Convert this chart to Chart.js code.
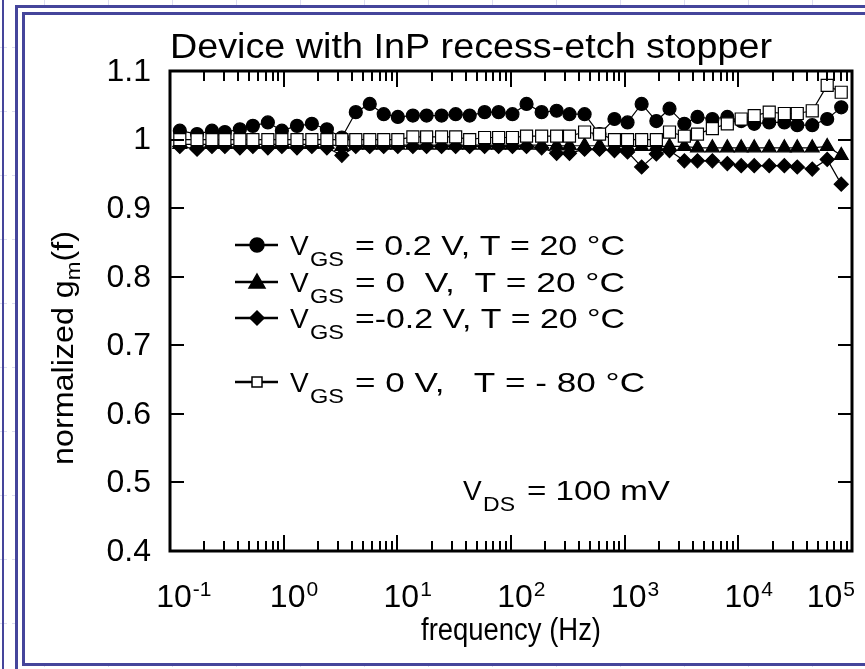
<!DOCTYPE html>
<html>
<head>
<meta charset="utf-8">
<script src="https://cdn.jsdelivr.net/npm/chart.js@4.4.0/dist/chart.umd.min.js"></script>
<style>
  html, body { margin: 0; padding: 0; background: #fff; }
  #wrap { position: relative; width: 865px; height: 669px; }
</style>
</head>
<body>
<div id="wrap"><canvas id="chart" width="865" height="669"></canvas></div>
<script>
// ── data ──
const freqHz = [0.122, 0.173, 0.234, 0.304, 0.412, 0.536, 0.726, 0.964, 1.31, 1.77, 2.40, 3.25,
  4.31, 5.72, 7.59, 10.1, 13.7, 18.1, 24.5, 32.6, 43.3, 58.6, 77.8, 103,
  137, 186, 252, 327, 444, 601, 813, 1060, 1410, 1900, 2480, 3350,
  4370, 5910, 8000, 10600, 13800, 18700, 25400, 33000, 44700, 60500, 80400];

const gmPos02 = [1.013, 1.008, 1.013, 1.011, 1.015, 1.020, 1.025, 1.013, 1.020, 1.023, 1.015, 1.003,
  1.040, 1.052, 1.037, 1.033, 1.035, 1.035, 1.035, 1.037, 1.035, 1.040, 1.040, 1.037,
  1.052, 1.040, 1.042, 1.037, 1.037, 1.008, 1.030, 1.025, 1.052, 1.027, 1.045, 1.023,
  1.033, 1.030, 1.033, 1.027, 1.023, 1.025, 1.025, 1.021, 1.021, 1.030, 1.047];

const gmZero = [0.993, 0.993, 0.993, 0.993, 0.993, 0.993, 0.993, 0.993, 0.993, 0.993, 0.993, 0.990,
  0.992, 0.992, 0.992, 0.992, 0.992, 0.992, 0.992, 0.992, 0.992, 0.992, 0.992, 0.992,
  0.992, 0.992, 0.991, 0.991, 0.991, 0.991, 0.990, 0.990, 0.990, 0.990, 0.990, 0.990,
  0.988, 0.988, 0.988, 0.988, 0.988, 0.988, 0.988, 0.988, 0.988, 0.990, 0.977];

const gmNeg02 = [0.990, 0.986, 0.990, 0.990, 0.988, 0.990, 0.988, 0.990, 0.988, 0.990, 0.988, 0.977,
  0.990, 0.990, 0.990, 0.990, 0.990, 0.990, 0.990, 0.990, 0.990, 0.990, 0.990, 0.990,
  0.990, 0.988, 0.980, 0.980, 0.986, 0.986, 0.984, 0.982, 0.960, 0.979, 0.984, 0.969,
  0.969, 0.969, 0.965, 0.962, 0.962, 0.962, 0.962, 0.960, 0.957, 0.971, 0.935];

const gmCold = [1.000, 1.000, 1.000, 1.000, 1.000, 1.000, 1.000, 1.000, 1.000, 1.000, 1.000, 1.000,
  1.000, 1.000, 1.000, 1.000, 1.004, 1.004, 1.004, 1.004, 1.000, 1.003, 1.003, 1.003,
  1.005, 1.005, 1.005, 1.005, 1.011, 1.008, 1.000, 1.000, 1.000, 1.000, 1.011, 1.005,
  1.008, 1.016, 1.023, 1.030, 1.035, 1.040, 1.038, 1.038, 1.042, 1.079, 1.069];

const yTicks = [1.1, 1.0, 0.9, 0.8, 0.7, 0.6, 0.5, 0.4];
const yTickLabels = ['1.1', '1', '0.9', '0.8', '0.7', '0.6', '0.5', '0.4'];
const xDecades = [-1, 0, 1, 2, 3, 4, 5];
const xTickExp = ['-1', '0', '1', '2', '3', '4', '5'];

const legendRest = ['= 0.2 V, T = 20 °C', '= 0  V,  T = 20 °C', '=-0.2 V, T = 20 °C', '= 0 V,   T = - 80 °C'];
const legendMarks = ['circle', 'triangle', 'diamond', 'square'];

const FONT = '"Liberation Sans", Arial, sans-serif';
const FRAME = '#45459b';

function pts(vals) {
  return freqHz.map((f, i) => ({ x: f, y: vals[i] }));
}

// text squeezed/stretched to a target width
function fitText(ctx, str, x, y, w) {
  const m = ctx.measureText(str).width;
  ctx.save();
  ctx.translate(x, y);
  ctx.scale(w / m, 1);
  ctx.fillText(str, 0, 0);
  ctx.restore();
}

function line(ctx, x1, y1, x2, y2) {
  ctx.beginPath();
  ctx.moveTo(x1, y1);
  ctx.lineTo(x2, y2);
  ctx.stroke();
}

function drawMark(ctx, kind, x, y) {
  ctx.beginPath();
  if (kind === 'circle') ctx.arc(x, y, 7, 0, Math.PI * 2);
  if (kind === 'triangle') { ctx.moveTo(x, y - 8); ctx.lineTo(x + 8, y + 6); ctx.lineTo(x - 8, y + 6); ctx.closePath(); }
  if (kind === 'diamond') { ctx.moveTo(x, y - 7); ctx.lineTo(x + 7, y); ctx.lineTo(x, y + 7); ctx.lineTo(x - 7, y); ctx.closePath(); }
  if (kind === 'square') { ctx.rect(x - 5, y - 5, 10, 10); }
  ctx.fillStyle = kind === 'square' ? '#fff' : '#000';
  ctx.fill();
  ctx.lineWidth = 1.5;
  ctx.strokeStyle = '#000';
  ctx.stroke();
}

/* ═══ page frame (blue double lines) ═══ */
const pagePlugin = {
  id: 'page',
  beforeDraw(chart) {
    const ctx = chart.ctx;
    const W = chart.width, H = chart.height;
    ctx.save();
    ctx.fillStyle = '#fff';
    ctx.fillRect(0, 0, W, H);
    ctx.strokeStyle = '#dcdcf0';
    ctx.lineWidth = 1;
    ctx.setLineDash([7, 5]);
    for (let x = 44; x < W; x += 64) line(ctx, x + 0.5, 0, x + 0.5, H);
    for (let y = 47; y < H; y += 64) line(ctx, 0, y + 0.5, W, y + 0.5);
    ctx.setLineDash([]);
    ctx.fillStyle = '#fff';
    ctx.fillRect(16, 5, W, 661);
    ctx.fillStyle = FRAME;
    ctx.fillRect(2, 0, 2, H);
    ctx.fillRect(15, 5, 3, H);
    ctx.fillRect(15, 5, W, 3);
    ctx.fillRect(22, 12, 3, 654);
    ctx.fillRect(22, 12, W, 3);
    ctx.fillRect(22, 663, W, 3);
    ctx.restore();
  }
};

/* ═══ axes box with inward ticks ═══ */
const boxPlugin = {
  id: 'box',
  afterDatasetsDraw(chart) {
    const ctx = chart.ctx;
    const { left, right, top, bottom } = chart.chartArea;
    const xs = chart.scales.x, ys = chart.scales.y;
    ctx.save();
    ctx.strokeStyle = '#000';
    ctx.lineWidth = 2;
    xDecades.forEach(e => {
      for (let m = 1; m <= 9; m++) {
        if (e === 5 && m > 1) break;
        const px = Math.round(xs.getPixelForValue(m * Math.pow(10, e)));
        const len = m === 1 ? 16 : 10;
        line(ctx, px, bottom, px, bottom - len);
        line(ctx, px, top, px, top + len);
      }
    });
    yTicks.forEach(v => {
      const py = Math.round(ys.getPixelForValue(v));
      line(ctx, left, py, left + 14, py);
      line(ctx, right, py, right - 14, py);
    });
    ctx.lineWidth = 3;
    ctx.strokeRect(left, top, right - left, bottom - top);
    ctx.restore();
  }
};

/* ═══ labels, titles, legend ═══ */
const textPlugin = {
  id: 'texts',
  afterDraw(chart) {
    const ctx = chart.ctx;
    const { left, right } = chart.chartArea;
    const xs = chart.scales.x, ys = chart.scales.y;
    ctx.save();
    ctx.fillStyle = '#000';

    // title
    ctx.font = `35px ${FONT}`;
    ctx.textAlign = 'left';
    ctx.textBaseline = 'alphabetic';
    fitText(ctx, 'Device with InP recess-etch stopper', 170, 58, 602);

    // y tick labels
    ctx.font = `32px ${FONT}`;
    ctx.textAlign = 'right';
    ctx.textBaseline = 'middle';
    yTicks.forEach((v, i) => {
      ctx.fillText(yTickLabels[i], left - 19, ys.getPixelForValue(v) + 1);
    });

    // x tick labels 10^n
    ctx.textBaseline = 'alphabetic';
    ctx.textAlign = 'left';
    xDecades.forEach((e, i) => {
      const px = xs.getPixelForValue(Math.pow(10, e));
      ctx.font = `32px ${FONT}`;
      const w10 = ctx.measureText('10').width;
      ctx.font = `21px ${FONT}`;
      const wExp = ctx.measureText(xTickExp[i]).width;
      let x0 = px + 4 - w10 / 2;
      if (x0 + w10 + wExp > right + 4) x0 = right + 4 - w10 - wExp - 2;
      ctx.font = `32px ${FONT}`;
      ctx.fillText('10', x0, 607);
      ctx.font = `21px ${FONT}`;
      ctx.fillText(xTickExp[i], x0 + w10 + 1, 596);
    });

    // x title
    ctx.font = `31px ${FONT}`;
    fitText(ctx, 'frequency (Hz)', 421, 640, 180);

    // y title (rotated), stretched to the reference length
    ctx.save();
    ctx.translate(73, 348);
    ctx.rotate(-Math.PI / 2);
    ctx.font = `30px ${FONT}`;
    const a = 'normalized g', c = '(f)';
    const wa = ctx.measureText(a).width, wc = ctx.measureText(c).width;
    ctx.font = `21px ${FONT}`;
    const wb = ctx.measureText('m').width;
    const total = wa + wb + wc;
    const k = 234 / total;
    ctx.scale(k, 1);
    const tx = -total / 2;
    ctx.font = `30px ${FONT}`;
    ctx.fillText(a, tx, 0);
    ctx.font = `21px ${FONT}`;
    ctx.fillText('m', tx + wa, 7);
    ctx.font = `30px ${FONT}`;
    ctx.fillText(c, tx + wa + wb, 0);
    ctx.restore();

    // legend
    const rowBase = [255, 292, 328, 392];
    rowBase.forEach((yb, i) => {
      const yc = yb - 10;
      ctx.strokeStyle = '#000';
      ctx.lineWidth = 2.5;
      line(ctx, 235, yc, 278, yc);
      drawMark(ctx, legendMarks[i], 257, yc);
      ctx.fillStyle = '#000';
      ctx.font = `28px ${FONT}`;
      ctx.fillText('V', 290, yb);
      ctx.font = `20px ${FONT}`;
      fitText(ctx, 'GS', 310, yb + 11, 34);
      ctx.font = `28px ${FONT}`;
      fitText(ctx, legendRest[i], 355, yb, i === 3 ? 290 : 270);
    });

    // V_DS note
    ctx.font = `28px ${FONT}`;
    ctx.fillText('V', 463, 500);
    ctx.font = `20px ${FONT}`;
    fitText(ctx, 'DS', 483, 511, 32);
    ctx.font = `28px ${FONT}`;
    fitText(ctx, '= 100 mV', 527, 500, 143);

    ctx.restore();
  }
};

const common = { showLine: true, borderColor: '#000', borderWidth: 1.2, pointBorderColor: '#000', pointBorderWidth: 1.2, clip: false };

new Chart(document.getElementById('chart'), {
  type: 'scatter',
  data: {
    datasets: [
      Object.assign({ label: 'V_GS = 0 V, T = -80 °C', data: pts(gmCold), pointStyle: 'rect', pointRadius: 8.5, pointBackgroundColor: '#fff', order: 0 }, common),
      Object.assign({ label: 'V_GS = 0 V, T = 20 °C', data: pts(gmZero), pointStyle: 'triangle', pointRadius: 8, pointBackgroundColor: '#000', order: 1 }, common),
      Object.assign({ label: 'V_GS = -0.2 V, T = 20 °C', data: pts(gmNeg02), pointStyle: 'rectRot', pointRadius: 7, pointBackgroundColor: '#000', order: 2 }, common),
      Object.assign({ label: 'V_GS = 0.2 V, T = 20 °C', data: pts(gmPos02), pointStyle: 'circle', pointRadius: 6.5, pointBackgroundColor: '#000', order: 3 }, common)
    ]
  },
  options: {
    responsive: false,
    animation: false,
    devicePixelRatio: 1,
    layout: { padding: { left: 170, right: 13, top: 71, bottom: 118 } },
    plugins: { legend: { display: false }, tooltip: { enabled: false } },
    scales: {
      x: { type: 'logarithmic', min: 0.1, max: 100000, display: false },
      y: { type: 'linear', min: 0.4, max: 1.1, display: false }
    }
  },
  plugins: [pagePlugin, boxPlugin, textPlugin]
});
</script>
</body>
</html>
